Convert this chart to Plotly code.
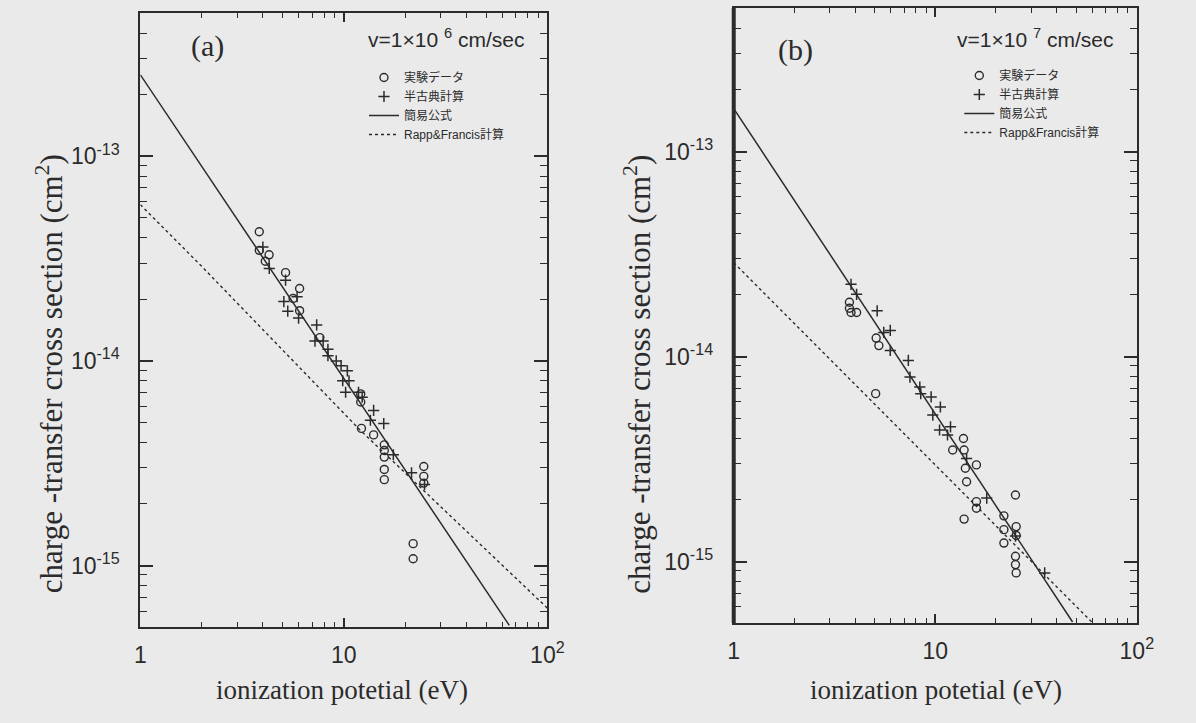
import plotly.graph_objects as go

# ---------------- data ----------------
# (a) v = 1e6 cm/s
a_exp_ip = [3.84, 3.84, 4.29, 4.11, 5.17, 6.06, 5.63, 6.06, 7.62, 12.1, 12.1, 12.2, 14.0,
            15.8, 15.8, 15.8, 15.8, 15.8, 24.7, 24.7, 24.7, 21.9, 21.9]
a_exp_sigma = [4.28e-14, 3.47e-14, 3.30e-14, 3.07e-14, 2.70e-14, 2.26e-14, 2.02e-14, 1.76e-14,
               1.30e-14, 6.9e-15, 6.3e-15, 4.68e-15, 4.35e-15, 3.89e-15, 3.65e-15, 3.39e-15,
               2.95e-15, 2.63e-15, 3.05e-15, 2.73e-15, 2.53e-15, 1.28e-15, 1.08e-15]
a_semi_ip = [4.0, 4.3, 5.17, 5.07, 5.30, 5.99, 5.89, 7.35, 7.21, 7.91, 8.35, 8.35, 9.17, 9.69,
             10.4, 9.87, 10.6, 10.2, 11.8, 12.3, 14.0, 13.5, 15.7, 17.5, 21.5, 24.9]
a_semi_sigma = [3.6e-14, 2.83e-14, 2.48e-14, 1.95e-14, 1.75e-14, 1.62e-14, 2.06e-14, 1.50e-14,
                1.25e-14, 1.25e-14, 1.14e-14, 1.06e-14, 1.0e-14, 9.46e-15, 8.95e-15, 8.0e-15,
                8.0e-15, 7.03e-15, 7.03e-15, 6.65e-15, 5.73e-15, 5.13e-15, 4.94e-15, 3.48e-15,
                2.84e-15, 2.49e-15]
a_simple_ip = [1, 10, 65]
a_simple_sigma = [2.5e-13, 8.2e-15, 5.1e-16]
a_rf_ip = [1, 2, 12, 100]
a_rf_sigma = [5.8e-14, 2.9e-14, 4.6e-15, 6.2e-16]

# (b) v = 1e7 cm/s
b_exp_ip = [3.75, 3.75, 3.82, 4.07, 5.09, 5.25, 5.06, 13.8, 12.2, 13.9, 14.1, 16.0, 14.3, 16.0,
            16.0, 13.9, 25.0, 21.9, 21.9, 21.9, 25.2, 25.2, 25.0, 25.0, 25.2]
b_exp_sigma = [1.84e-14, 1.72e-14, 1.64e-14, 1.64e-14, 1.23e-14, 1.13e-14, 6.59e-15, 3.98e-15,
               3.50e-15, 3.50e-15, 2.85e-15, 2.96e-15, 2.45e-15, 1.96e-15, 1.82e-15, 1.61e-15,
               2.11e-15, 1.67e-15, 1.43e-15, 1.23e-15, 1.48e-15, 1.34e-15, 1.06e-15, 9.66e-16,
               8.8e-16]
b_semi_ip = [3.82, 4.07, 5.15, 5.55, 5.98, 5.98, 7.35, 7.49, 8.38, 8.47, 9.54, 10.6, 9.72, 10.5,
             11.9, 11.5, 14.3, 18.0, 25.0, 34.9]
b_semi_sigma = [2.25e-14, 2.01e-14, 1.67e-14, 1.31e-14, 1.34e-14, 1.07e-14, 9.57e-15, 7.94e-15,
                7.1e-15, 6.59e-15, 6.35e-15, 5.67e-15, 5.18e-15, 4.38e-15, 4.54e-15, 4.14e-15,
                3.18e-15, 2.04e-15, 1.33e-15, 8.8e-16]
b_simple_ip = [1, 10, 48]
b_simple_sigma = [1.62e-13, 5.25e-15, 5.07e-16]
b_rf_ip = [1, 10, 60]
b_rf_sigma = [2.87e-14, 2.96e-15, 5.05e-16]

series_names = ["実験データ", "半古典計算", "簡易公式", "Rapp&Francis計算"]
x_tickvals = [1, 10, 100]
x_ticktext = ["1", "10", "10<sup>2</sup>"]
y_tickvals = [1e-15, 1e-14, 1e-13]
y_ticktext = ["10<sup>-15</sup>", "10<sup>-14</sup>", "10<sup>-13</sup>"]
panel_tags = ["(a)", "(b)"]
speed_labels = ["v=1×10 <sup>6</sup> cm/sec", "v=1×10 <sup>7</sup> cm/sec"]
x_title = "ionization potetial (eV)"
y_title = "charge -transfer cross section (cm<sup>2</sup>)"

# ---------------- styling ----------------
W, H = 1196, 723
INK = "#2b2b2b"
BG = "#eaeaea"
SANS = "Liberation Sans, Arial, Noto Sans CJK JP"
SERIF = "Liberation Serif, Times New Roman, serif"
CJK = "Liberation Sans, Noto Sans CJK JP"


def px(x):
    return x / W


def py(y):
    return 1 - y / H


fig = go.Figure()

panels = [
    dict(exp=(a_exp_ip, a_exp_sigma), semi=(a_semi_ip, a_semi_sigma),
         simple=(a_simple_ip, a_simple_sigma), rf=(a_rf_ip, a_rf_sigma),
         xa="x", ya="y", legend="legend"),
    dict(exp=(b_exp_ip, b_exp_sigma), semi=(b_semi_ip, b_semi_sigma),
         simple=(b_simple_ip, b_simple_sigma), rf=(b_rf_ip, b_rf_sigma),
         xa="x2", ya="y2", legend="legend2"),
]

for p in panels:
    fig.add_trace(go.Scatter(
        x=p["exp"][0], y=p["exp"][1], mode="markers", name=series_names[0],
        marker=dict(symbol="circle-open", size=8, color=INK, line=dict(width=1.4, color=INK)),
        xaxis=p["xa"], yaxis=p["ya"], legend=p["legend"]))
    fig.add_trace(go.Scatter(
        x=p["semi"][0], y=p["semi"][1], mode="markers", name=series_names[1],
        marker=dict(symbol="cross-thin", size=8, color=INK, line=dict(width=1.5, color=INK)),
        xaxis=p["xa"], yaxis=p["ya"], legend=p["legend"]))
    fig.add_trace(go.Scatter(
        x=p["simple"][0], y=p["simple"][1], mode="lines", name=series_names[2],
        line=dict(color=INK, width=1.5),
        xaxis=p["xa"], yaxis=p["ya"], legend=p["legend"]))
    fig.add_trace(go.Scatter(
        x=p["rf"][0], y=p["rf"][1], mode="lines", name=series_names[3],
        line=dict(color=INK, width=1.4, dash="dot"),
        xaxis=p["xa"], yaxis=p["ya"], legend=p["legend"]))

minor_x = [k * 10 ** n for n in range(0, 2) for k in range(2, 10)]
minor_y = [k * 10 ** n for n in range(-16, -12) for k in range(2, 10)]

common_x = dict(type="log", range=[0, 2], tickvals=x_tickvals, ticktext=x_ticktext,
                ticks="inside", ticklen=9, tickwidth=1.5, tickcolor=INK,
                showline=True, linecolor=INK, linewidth=2, mirror="allticks",
                showgrid=False, zeroline=False,
                tickfont=dict(family=SANS, size=23, color=INK), ticklabelstandoff=6,
                minor=dict(tickvals=minor_x, ticks="inside", ticklen=5, tickcolor=INK,
                           tickwidth=1.3, showgrid=False))
common_y = dict(type="log", range=[-15.3, -12.3], tickvals=y_tickvals, ticktext=y_ticktext,
                ticks="inside", ticklen=13, tickwidth=1.5, tickcolor=INK,
                showline=True, linecolor=INK, linewidth=2, mirror="allticks",
                showgrid=False, zeroline=False,
                tickfont=dict(family=SANS, size=23, color=INK), ticklabelstandoff=14,
                minor=dict(tickvals=minor_y, ticks="inside", ticklen=7, tickcolor=INK,
                           tickwidth=1.3, showgrid=False))

fig.update_layout(
    width=W, height=H,
    margin=dict(l=0, r=0, t=0, b=0),
    paper_bgcolor=BG, plot_bgcolor=BG,
    xaxis=dict(common_x, domain=[px(137), px(552)], anchor="y"),
    yaxis=dict(common_y, domain=[py(627), py(13)], anchor="x"),
    xaxis2=dict(common_x, domain=[px(742), px(1153)], anchor="y2"),
    yaxis2=dict(common_y, domain=[py(623), py(8)], anchor="x2"),
    legend=dict(x=px(365), y=py(63), xanchor="left", yanchor="top",
                bgcolor="rgba(0,0,0,0)", font=dict(family=CJK, size=12, color=INK),
                itemwidth=30, tracegroupgap=0),
    legend2=dict(x=px(972), y=py(61), xanchor="left", yanchor="top",
                 bgcolor="rgba(0,0,0,0)", font=dict(family=CJK, size=12, color=INK),
                 itemwidth=30, tracegroupgap=0),
    showlegend=True,
)

# thicker left spine on panel (b)
fig.add_shape(type="line", xref="x2 domain", yref="y2 domain", x0=0, x1=0, y0=0, y1=1,
              line=dict(color=INK, width=4))

ann = []
tag_pos = [(205, 46), (805, 50)]
speed_pos = [(530, 38), (1131, 38)]
xtitle_pos = [(343, 690), (948, 690)]
ytitle_pos = [(44, 374), (643, 374)]
for i in range(2):
    ann.append(dict(text=panel_tags[i], x=px(tag_pos[i][0]), y=py(tag_pos[i][1]),
                    xref="paper", yref="paper", xanchor="center", yanchor="middle",
                    showarrow=False, font=dict(family=SERIF, size=30, color=INK)))
    ann.append(dict(text=speed_labels[i], x=px(speed_pos[i][0]), y=py(speed_pos[i][1]),
                    xref="paper", yref="paper", xanchor="right", yanchor="middle",
                    showarrow=False, font=dict(family=SANS, size=21, color=INK)))
    ann.append(dict(text=x_title, x=px(xtitle_pos[i][0]), y=py(xtitle_pos[i][1]),
                    xref="paper", yref="paper", xanchor="center", yanchor="middle",
                    showarrow=False, font=dict(family=SERIF, size=27, color=INK)))
    ann.append(dict(text=y_title, x=px(ytitle_pos[i][0]), y=py(ytitle_pos[i][1]),
                    xref="paper", yref="paper", xanchor="center", yanchor="middle",
                    showarrow=False, textangle=-90,
                    font=dict(family=SERIF, size=31, color=INK)))
fig.update_layout(annotations=ann)

fig.write_html("out.html")
